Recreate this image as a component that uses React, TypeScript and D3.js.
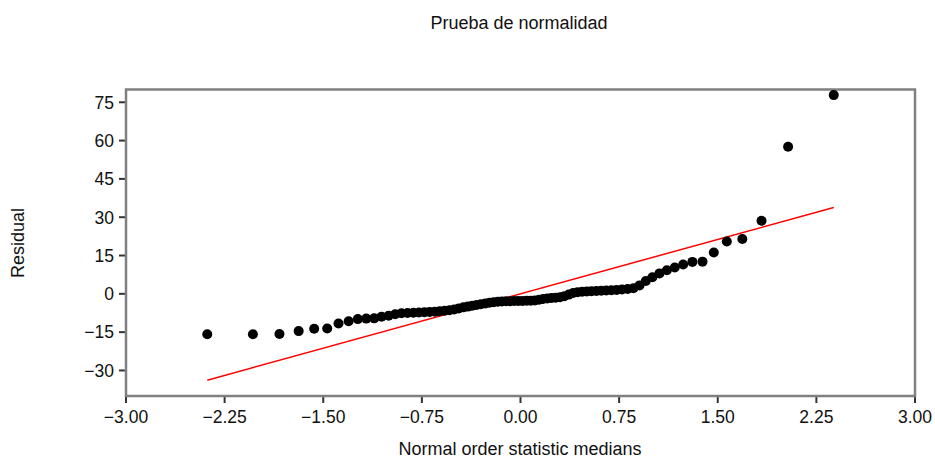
import React from "react";
import * as d3 from "d3";

// Normal order statistic medians (n = 80)
const normalMedians: number[] = [
  -2.382, -2.035, -1.833, -1.687, -1.569, -1.47, -1.384, -1.307, -1.237, -1.173,
  -1.113, -1.057, -1.003, -0.953, -0.905, -0.859, -0.815, -0.772, -0.731, -0.691,
  -0.652, -0.614, -0.577, -0.54, -0.504, -0.469, -0.434, -0.4, -0.367, -0.334,
  -0.301, -0.268, -0.236, -0.204, -0.172, -0.141, -0.109, -0.078, -0.047, -0.016,
  0.016, 0.047, 0.078, 0.109, 0.141, 0.172, 0.204, 0.236, 0.268, 0.301,
  0.334, 0.367, 0.4, 0.434, 0.469, 0.504, 0.54, 0.577, 0.614, 0.652,
  0.691, 0.731, 0.772, 0.815, 0.859, 0.905, 0.953, 1.003, 1.057, 1.113,
  1.173, 1.237, 1.307, 1.384, 1.47, 1.569, 1.687, 1.833, 2.035, 2.382,
];

// Ordered residuals
const residuals: number[] = [
  -15.8, -15.8, -15.7, -14.6, -13.7, -13.6, -11.6, -10.7, -9.9, -9.7,
  -9.6, -9.0, -8.6, -8.0, -7.6, -7.5, -7.4, -7.3, -7.2, -7.1,
  -7.0, -6.8, -6.6, -6.4, -6.1, -5.7, -5.3, -5.0, -4.7, -4.4,
  -4.1, -3.8, -3.5, -3.3, -3.1, -3.0, -2.9, -2.9, -2.8, -2.8,
  -2.8, -2.7, -2.7, -2.6, -2.3, -2.0, -1.8, -1.6, -1.5, -1.3,
  -0.9, -0.3, 0.3, 0.6, 0.8, 0.9, 1.0, 1.1, 1.2, 1.3,
  1.4, 1.5, 1.7, 1.9, 2.2, 3.3, 5.0, 6.5, 8.0, 9.2,
  10.3, 11.5, 12.5, 12.6, 16.2, 20.5, 21.5, 28.6, 57.6, 77.8,
];

// Reference line: residual = intercept + slope * median
const lineIntercept = 0;
const lineSlope = 14.2;

const xTicks: number[] = [-3, -2.25, -1.5, -0.75, 0, 0.75, 1.5, 2.25, 3];
const yTicks: number[] = [75, 60, 45, 30, 15, 0, -15, -30];

const titleText = "Prueba de normalidad";
const xLabel = "Normal order statistic medians";
const yLabel = "Residual";

const W = 935;
const H = 458;
const plot = { left: 126, top: 89.5, right: 915, bottom: 396 };
const FONT = "'Liberation Sans', Arial, sans-serif";

export default function App() {
  const x = d3.scaleLinear().domain([-3, 3]).range([plot.left, plot.right]);
  const y = d3.scaleLinear().domain([-40, 80]).range([plot.bottom, plot.top]);

  const xFirst = normalMedians[0];
  const xLast = normalMedians[normalMedians.length - 1];
  const refLine = d3
    .line<number>()
    .x((d) => x(d))
    .y((d) => y(lineIntercept + lineSlope * d))([xFirst, xLast]);

  const points = normalMedians.map((m, i) => ({ m, r: residuals[i] }));
  const tickLen = 7;

  return (
    <svg
      width={W}
      height={H}
      style={{ position: "absolute", left: 0, top: 0, background: "#fff" }}
      fontFamily={FONT}
    >
      <rect x={0} y={0} width={W} height={H} fill="#fff" />
      <text x={519} y={28.5} textAnchor="middle" fontSize={18} fill="#111">
        {titleText}
      </text>

      {/* y ticks */}
      {yTicks.map((t) => (
        <g key={"y" + t}>
          <line
            x1={plot.left - tickLen}
            x2={plot.left}
            y1={y(t)}
            y2={y(t)}
            stroke="#333"
            strokeWidth={2}
          />
          <text
            x={plot.left - tickLen - 5}
            y={y(t)}
            dy="0.36em"
            textAnchor="end"
            fontSize={17.5}
            fill="#111"
          >
            {d3.format("d")(t)}
          </text>
        </g>
      ))}

      {/* x ticks */}
      {xTicks.map((t) => (
        <g key={"x" + t}>
          <line
            x1={x(t)}
            x2={x(t)}
            y1={plot.bottom}
            y2={plot.bottom + tickLen}
            stroke="#333"
            strokeWidth={2}
          />
          <text x={x(t)} y={423} textAnchor="middle" fontSize={17.5} fill="#111">
            {d3.format(".2f")(t)}
          </text>
        </g>
      ))}

      <rect
        x={plot.left}
        y={plot.top}
        width={plot.right - plot.left}
        height={plot.bottom - plot.top}
        fill="none"
        stroke="#808080"
        strokeWidth={2.5}
      />

      <path d={refLine ?? ""} stroke="#ff0000" strokeWidth={1.5} fill="none" />

      {points.map((p, i) => (
        <circle key={i} cx={x(p.m)} cy={y(p.r)} r={5} fill="#000" />
      ))}

      <text x={520} y={455} textAnchor="middle" fontSize={18} fill="#111">
        {xLabel}
      </text>
      <text
        transform="translate(24,243) rotate(-90)"
        textAnchor="middle"
        fontSize={18}
        fill="#111"
      >
        {yLabel}
      </text>
    </svg>
  );
}
